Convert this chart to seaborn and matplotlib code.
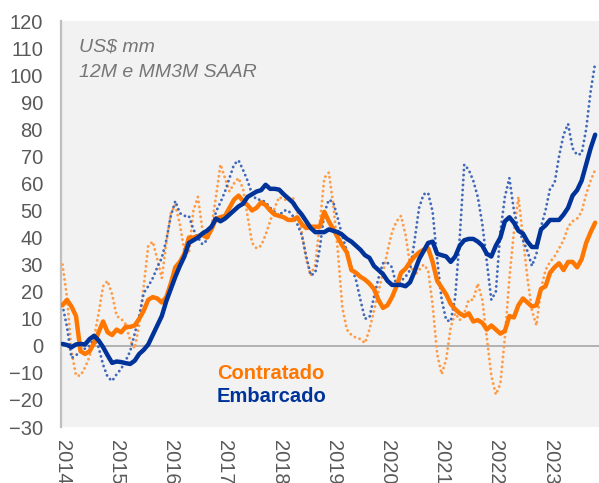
import numpy as np
import pandas as pd
import matplotlib
matplotlib.use("Agg")
import matplotlib.pyplot as plt
import seaborn as sns

# monthly series, Jan 2014 onwards (US$ mm)
contratado_12m = [
    15, 17, 14.5, 11, -2, -3, -2, 1, 5, 9,
    5, 4, 6, 5, 7, 7, 7.5, 10, 13, 17,
    18, 17.5, 16, 18, 23, 29, 31, 34, 40, 40,
    40.5, 41, 40, 43, 47, 47.5, 48, 51, 54, 55.5,
    53.5, 52, 50, 51, 53, 52, 50, 48.5, 48, 47.5,
    46.5, 46.5, 47.5, 45, 43.5, 44, 44, 44, 49.5, 46,
    43, 40, 37, 34.5, 28, 27, 25.5, 24.5, 23, 21,
    17, 14, 15, 18, 22, 27, 28.5, 31, 33, 34.5,
    35.5, 36, 31, 24, 21.5, 19, 15.5, 13.5, 12, 11,
    12, 9, 9.5, 8.5, 6, 7.5, 6, 4.5, 5.5, 11,
    10.5, 15, 17.5, 16, 14.5, 15, 21, 22, 27, 29,
    30.5, 28, 31, 31, 29, 32, 38, 42, 45.5,
]
embarcado_12m = [
    0.7, 0.3, -0.5, 0.5, 0.7, 0.5, 2.5, 3.7, 2, -0.5,
    -3.5, -6.3, -5.8, -6, -6.4, -6.7, -5.5, -3, -1.5, 0.5,
    4, 7.5, 11, 16.5, 21, 25.5, 29.5, 33, 38, 39,
    40, 41.5, 42.5, 44, 47, 46, 47, 48.5, 50, 51.5,
    52.5, 55, 56, 57, 57.5, 59.5, 58, 58, 57.7, 56,
    54.5, 53, 50.5, 48.5, 46, 43.5, 42, 42, 42, 43,
    42.5, 42, 41, 39.5, 38.5, 37, 35.5, 33.5, 32.5, 29.5,
    28, 26.5, 24, 22.5, 22.5, 22.5, 22, 23.5, 27.5, 32,
    35, 38, 38.5, 34, 33.5, 33, 31, 33, 37, 39,
    39.5, 39.5, 38.5, 37, 34, 33, 37, 40, 46, 47.5,
    45.5, 42.5, 41.5, 38.5, 36.5, 36.5, 43, 44.5, 46.5, 46.5,
    46.5, 48.5, 51, 55.5, 57.5, 61, 67, 73, 78,
]
contratado_3m = [
    30, 18, -2, -11, -11, -8, -4, 3, 12, 22,
    24, 19, 11, 10, 8, 2, -1, 8, 22, 37,
    38.5, 32, 25, 38, 49, 52, 45, 35, 34, 50,
    55, 43, 40, 44, 55, 67, 62, 57, 60, 62,
    58, 48, 38, 36, 37, 41, 46, 51, 55, 54,
    54, 55, 50, 42, 32, 26, 30, 45, 62, 64,
    52, 35, 14, 6, 4, 3, 2.5, 1, 6, 13,
    20, 27, 35, 42, 46, 48, 41, 30, 26, 28,
    30, 28, 15, -3, -10.5, -5, 7, 12, 9.5, 12,
    17, 17, 23, 17, 3, -11, -18, -14, 3, 25,
    42, 55, 40, 25, 13, 7.5, 21, 28, 31, 33,
    36, 39, 44, 46, 47, 49.5, 56, 61, 65,
]
embarcado_3m = [
    15, 7, -4.5, -3.5, -2, -1, 0, 3, -0.5, -7,
    -11.5, -13, -10.5, -8.5, -5.5, -2, 4.5, 11, 19.5, 22,
    25, 29, 32.5, 39, 48, 53.5, 49, 48, 48, 43,
    40, 37.5, 39, 43, 49.5, 53, 57, 62, 67, 68.5,
    65, 61, 56, 54, 54, 53, 51, 49.5, 48, 50,
    50, 48, 45, 41, 33, 26, 27, 36, 49, 54,
    53, 47, 40.5, 35, 29, 24.5, 17, 10, 10.5, 18,
    25, 30.5, 30.7, 29, 22, 24, 25.5, 28, 39, 51,
    56, 56.5, 49.5, 32, 17, 9.5, 9, 18, 40, 67,
    65, 61, 55, 45, 31, 17, 20, 42, 55, 62,
    50, 43, 39, 35, 29.5, 34, 44, 50, 58, 60,
    70, 78, 82, 73, 70.5, 71, 80, 94, 104.5,
]
years = list(range(2014, 2024))

months = np.arange(len(contratado_12m))
df = pd.DataFrame({
    "month": months,
    "c12": contratado_12m,
    "e12": embarcado_12m,
    "c3": contratado_3m,
    "e3": embarcado_3m,
})

sns.set_theme(style="white")
plt.rcParams["font.family"] = ["Liberation Sans", "DejaVu Sans"]

orange = "#FF7700"
blue = "#003399"
grey_text = "#595959"

fig = plt.figure(figsize=(5.99, 4.83), dpi=100)
ax = fig.add_axes([0.1018, 0.1159, 0.8982, 0.8406])
ax.set_facecolor("#F2F2F2")

# zero line
ax.axhline(0, color="#A6A6A6", lw=1.2, zorder=1)

# dotted MM3M SAAR series
dot = (0, (0.01, 1.7))
sns.lineplot(data=df, x="month", y="c3", ax=ax, color="#FF9A45", lw=2.1,
             linestyle=dot, dash_capstyle="round", zorder=2)
sns.lineplot(data=df, x="month", y="e3", ax=ax, color="#4169B8", lw=2.1,
             linestyle=dot, dash_capstyle="round", zorder=2)

# solid 12M series
sns.lineplot(data=df, x="month", y="c12", ax=ax, color=orange, lw=3.2,
             solid_joinstyle="round", solid_capstyle="round", zorder=3)
sns.lineplot(data=df, x="month", y="e12", ax=ax, color=blue, lw=3.2,
             solid_joinstyle="round", solid_capstyle="round", zorder=4)

ax.set_xlim(-0.33, 118.85)
ax.set_ylim(-30, 120)
ax.set_yticks(np.arange(-30, 121, 10))
ax.set_xticks([12 * i for i in range(len(years))])
ax.set_xticklabels([str(y) for y in years], rotation=-90, va="top", ha="center")
ax.tick_params(axis="y", length=0, pad=13, labelsize=14.5, labelcolor=grey_text)
ax.tick_params(axis="x", length=0, pad=9, labelsize=14.5, labelcolor=grey_text)
ax.set_xlabel("")
ax.set_ylabel("")

for side in ["top", "right", "bottom"]:
    ax.spines[side].set_visible(False)
ax.spines["left"].set_color("#BFBFBF")
ax.spines["left"].set_linewidth(1.6)

# units note
ax.text(0.0335, 0.936, "US$ mm", transform=ax.transAxes, fontsize=14,
        style="italic", color="#767676", va="center", ha="left")
ax.text(0.0335, 0.874, "12M e MM3M SAAR", transform=ax.transAxes, fontsize=14,
        style="italic", color="#767676", va="center", ha="left")

# legend as coloured text
ax.text(0.29, 0.133, "Contratado", transform=ax.transAxes, fontsize=14.5,
        fontweight="bold", color=orange, va="center", ha="left")
ax.text(0.29, 0.074, "Embarcado", transform=ax.transAxes, fontsize=14.5,
        fontweight="bold", color=blue, va="center", ha="left")

fig.savefig("out.png", dpi=100)
